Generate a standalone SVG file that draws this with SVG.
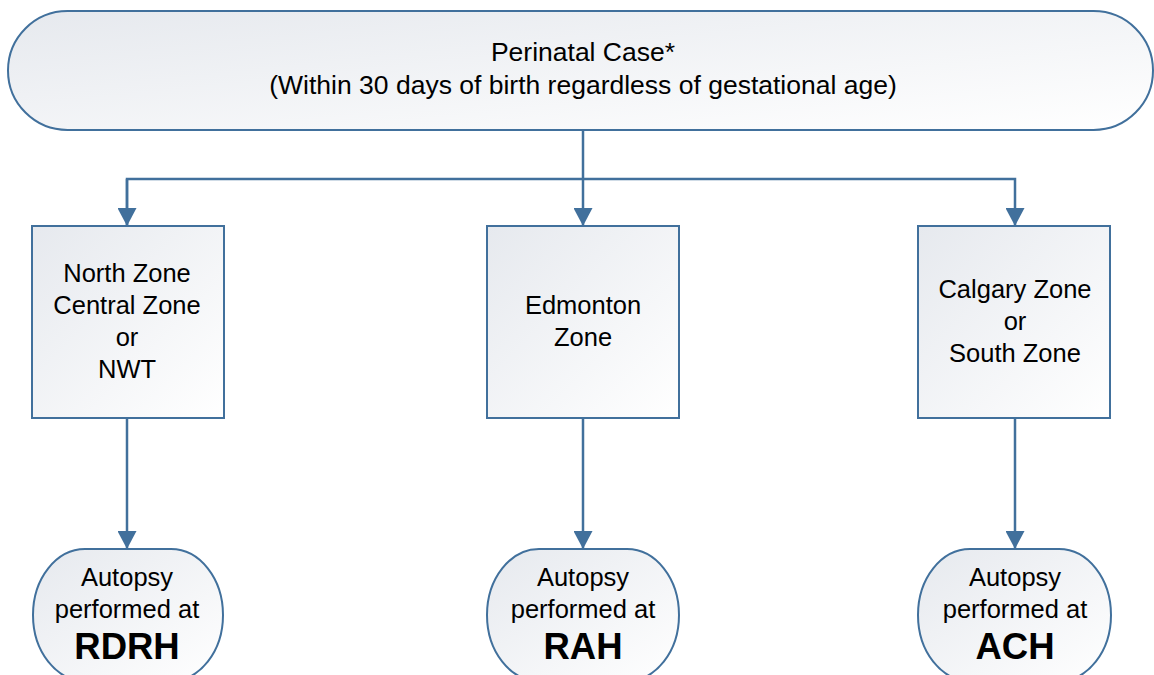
<svg xmlns="http://www.w3.org/2000/svg" width="1154" height="675" viewBox="0 0 1154 675">
<style>
.n{stroke:#41709c;stroke-width:2;fill:url(#g)}
.c{stroke:#41709c;stroke-width:2.5;fill:none}
text{font-family:"Liberation Sans",Arial,sans-serif;font-size:25.5px;fill:#000;text-anchor:middle}
.t{font-size:26.5px}
.b{font-size:36.5px;font-weight:bold}
</style>
<defs>
<linearGradient id="g" x1="0" y1="0" x2="1" y2="1">
<stop offset="0" stop-color="#e6e9ee"/>
<stop offset="1" stop-color="#ffffff"/>
</linearGradient>
<marker id="ar" markerWidth="19" markerHeight="19" refX="18" refY="9.5" orient="auto" markerUnits="userSpaceOnUse">
<path d="M0,0 L18,9.5 L0,19 Z" fill="#41709c"/>
</marker>
</defs>
<g id="connectors">
<path class="c" d="M583,130 V226" marker-end="url(#ar)"/>
<path class="c" d="M127,226 V179 H1015 V226" marker-end="url(#ar)"/>
<path class="c" d="M127,179 V226" marker-end="url(#ar)"/>
<path class="c" d="M127,418 V549" marker-end="url(#ar)"/>
<path class="c" d="M583,418 V549" marker-end="url(#ar)"/>
<path class="c" d="M1015,418 V549" marker-end="url(#ar)"/>
</g>
<g id="start">
<rect class="n" x="8" y="11" width="1145" height="119" rx="59.5"/>
<text class="t" x="583" y="61">Perinatal Case*</text>
<text class="t" x="583" y="94">(Within 30 days of birth regardless of gestational age)</text>
</g>
<g id="north">
<rect class="n" x="32" y="226" width="192" height="192"/>
<text x="127" y="282">North Zone</text>
<text x="127" y="314">Central Zone</text>
<text x="127" y="346">or</text>
<text x="127" y="378">NWT</text>
</g>
<g id="edmonton">
<rect class="n" x="487" y="226" width="192" height="192"/>
<text x="583" y="314">Edmonton</text>
<text x="583" y="346">Zone</text>
</g>
<g id="calgary">
<rect class="n" x="918" y="226" width="192" height="192"/>
<text x="1015" y="298">Calgary Zone</text>
<text x="1015" y="330">or</text>
<text x="1015" y="362">South Zone</text>
</g>
<g id="rdrh">
<rect class="n" x="33" y="549" width="190" height="132" rx="52" ry="66"/>
<text x="127" y="586">Autopsy</text>
<text x="127" y="618">performed at</text>
<text class="b" x="127" y="659">RDRH</text>
</g>
<g id="rah">
<rect class="n" x="487" y="549" width="192" height="132" rx="52" ry="66"/>
<text x="583" y="586">Autopsy</text>
<text x="583" y="618">performed at</text>
<text class="b" x="583" y="659">RAH</text>
</g>
<g id="ach">
<rect class="n" x="918" y="549" width="193" height="132" rx="52" ry="66"/>
<text x="1015" y="586">Autopsy</text>
<text x="1015" y="618">performed at</text>
<text class="b" x="1015" y="659">ACH</text>
</g>
</svg>
